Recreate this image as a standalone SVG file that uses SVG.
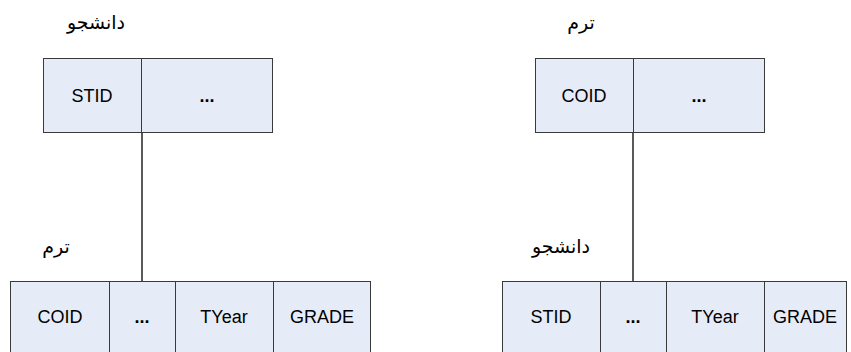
<svg xmlns="http://www.w3.org/2000/svg" width="851" height="352" viewBox="0 0 851 352">
<style>
.cell{fill:#E6ECF7;stroke:#3a3a3a;stroke-width:1}
.t{font-family:"Liberation Sans",Arial,sans-serif;font-size:18px;fill:#000;text-anchor:middle}
.d{font-family:"Liberation Sans",Arial,sans-serif;font-size:18px;font-weight:bold;fill:#000;text-anchor:middle}
.ar{font-family:"DejaVu Sans","Noto Sans",sans-serif;font-size:19px;fill:#000;text-anchor:middle}
.conn{stroke:#000;stroke-width:1.3;fill:none}
</style>
<rect width="851" height="352" fill="#fff"/>
<g id="connectors">
<line class="conn" x1="142" y1="132" x2="142" y2="281"/>
<line class="conn" x1="633" y1="132" x2="633" y2="281"/>
</g>
<g id="student-top">
<text class="ar" x="96" y="29" direction="rtl">دانشجو</text>
<rect class="cell" x="43.5" y="58.5" width="98" height="74"/>
<rect class="cell" x="141.5" y="58.5" width="131" height="74"/>
<text class="t" x="92" y="102">STID</text>
<text class="d" x="207" y="102">...</text>
</g>
<g id="term-bottom-left">
<text class="ar" x="56" y="253" direction="rtl">ترم</text>
<rect class="cell" x="10.5" y="281.5" width="99" height="75"/>
<rect class="cell" x="109.5" y="281.5" width="66" height="75"/>
<rect class="cell" x="175.5" y="281.5" width="98" height="75"/>
<rect class="cell" x="273.5" y="281.5" width="97" height="75"/>
<text class="t" x="60" y="323">COID</text>
<text class="d" x="142" y="323">...</text>
<text class="t" x="224" y="323">TYear</text>
<text class="t" x="322" y="323">GRADE</text>
</g>
<g id="term-top">
<text class="ar" x="581" y="29" direction="rtl">ترم</text>
<rect class="cell" x="535.5" y="58.5" width="98" height="74"/>
<rect class="cell" x="633.5" y="58.5" width="131" height="74"/>
<text class="t" x="584" y="102">COID</text>
<text class="d" x="699" y="102">...</text>
</g>
<g id="student-bottom-right">
<text class="ar" x="561" y="253" direction="rtl">دانشجو</text>
<rect class="cell" x="502.5" y="281.5" width="98" height="75"/>
<rect class="cell" x="600.5" y="281.5" width="66" height="75"/>
<rect class="cell" x="666.5" y="281.5" width="98" height="75"/>
<rect class="cell" x="764.5" y="281.5" width="82" height="75"/>
<text class="t" x="551" y="323">STID</text>
<text class="d" x="633" y="323">...</text>
<text class="t" x="715" y="323">TYear</text>
<text class="t" x="805" y="323">GRADE</text>
</g>
</svg>
